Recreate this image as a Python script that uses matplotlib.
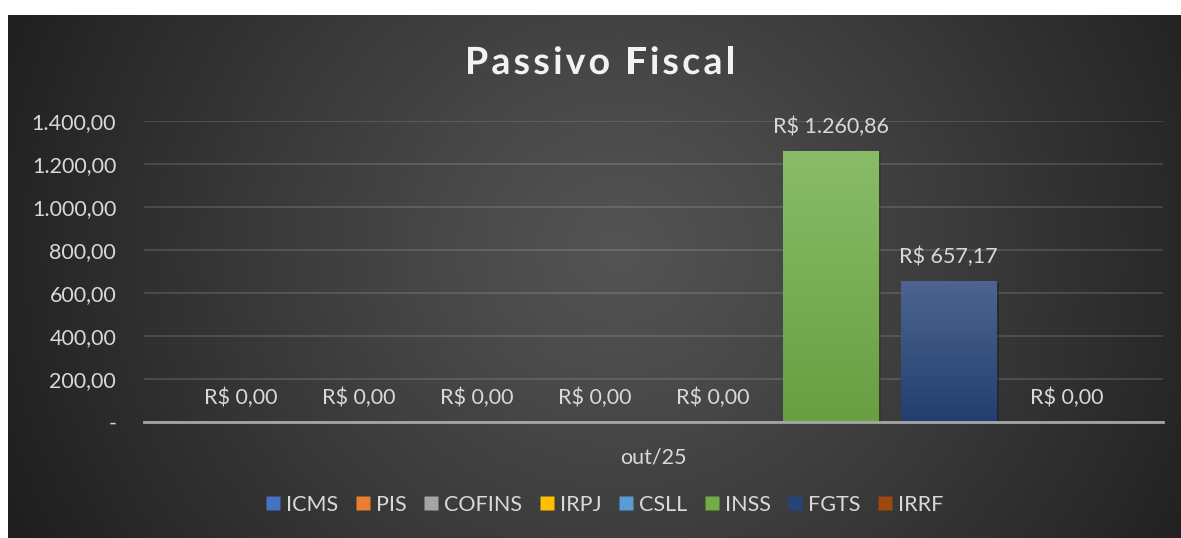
import numpy as np
import matplotlib
matplotlib.use("Agg")
import matplotlib.pyplot as plt
import matplotlib.patheffects as pe
from matplotlib.colors import to_rgb
from matplotlib.lines import Line2D

plt.rcParams['font.family'] = ['Lato', 'DejaVu Sans']

# data
categories = ["out/25"]
series = ["ICMS", "PIS", "COFINS", "IRPJ", "CSLL", "INSS", "FGTS", "IRRF"]
values = [0.0, 0.0, 0.0, 0.0, 0.0, 1260.86, 657.17, 0.0]
colors = ["#4472C4", "#ED7D31", "#A5A5A5", "#FFC000",
          "#5B9BD5", "#70AD47", "#264478", "#9E480E"]
yticks = [0, 200, 400, 600, 800, 1000, 1200, 1400]
title = "Passivo Fiscal"


def br_num(v):
    s = "{:,.2f}".format(v)
    return s.replace(",", "X").replace(".", ",").replace("X", ".")


W, H = 1181, 538
fig = plt.figure(figsize=(W / 100, H / 100), dpi=100)
fig.patch.set_facecolor("white")

# radial gradient background panel
bg = fig.add_axes([8 / W, 0, (W - 8) / W, (H - 15) / H])
bg.set_axis_off()
yy, xx = np.mgrid[0:1:300j, 0:1:600j]
r = np.sqrt(((xx - 0.52) * 2.1) ** 2 + ((yy - 0.45) * 1.0) ** 2)
r = np.clip(r / r.max(), 0, 1)
c0, c1 = 0x54 / 255, 0x1e / 255
img = c0 + (c1 - c0) * r ** 1.1
bg.imshow(np.dstack([img, img, img]), aspect="auto", extent=[0, 1, 0, 1])
bg.set_xlim(0, 1)
bg.set_ylim(0, 1)

ax = fig.add_axes([144 / W, (H - 422) / H, 1019 / W, 301 / H])
ax.set_facecolor("none")

n = len(series)
step = 118 / 1019
width = 96 / 1019
xs = (np.arange(n) - (n - 1) / 2) * step


def shade(c, f):
    c = np.array(to_rgb(c))
    if f >= 0:
        return c + (1 - c) * f
    return c * (1 + f)


for x, v, c, name in zip(xs, values, colors, series):
    bars = ax.bar(x, v, width=width, color=c, zorder=3, label=name)
    if v > 0:
        p = bars[0]
        top = shade(c, 0.18)
        bot = shade(c, -0.08)
        t = np.linspace(0, 1, 100)[:, None]
        grad = top[None, :] * (1 - t) + bot[None, :] * t
        im = ax.imshow(grad[:, None, :], extent=[x - width / 2, x + width / 2, 0, v],
                       aspect="auto", zorder=4)
        im.set_clip_path(p)
        p.set_path_effects([pe.SimplePatchShadow(offset=(2, -2), alpha=0.35), pe.Normal()])
    ax.annotate("R$ " + br_num(v), (x, v), xytext=(0, 10), textcoords="offset points",
                ha="center", va="bottom", color="#D9D9D9", fontsize=15.5, zorder=5,
                annotation_clip=False)

ax.set_xlim(-0.5, 0.5)
ax.set_ylim(0, 1400)
ax.set_yticks(yticks)
ax.set_yticklabels(["-"] + [br_num(v) for v in yticks[1:]])
ax.set_xticks([0])
ax.set_xticklabels(categories)
ax.tick_params(axis="y", length=0, pad=20, labelsize=15.5, labelcolor="#D9D9D9")
ax.tick_params(axis="x", length=0, pad=18, labelsize=15.5, labelcolor="#D9D9D9")
ax.grid(axis="y", color="#FFFFFF", alpha=0.13, linewidth=1.5, zorder=0)
for s in ["top", "right", "left"]:
    ax.spines[s].set_visible(False)
ax.spines["bottom"].set_color("#A6A6A6")
ax.spines["bottom"].set_linewidth(2)
ax.spines["bottom"].set_zorder(6)

# title with letter spacing, drawn char by char
renderer = fig.canvas.get_renderer()
tw = []
chars = []
for ch in title:
    t = fig.text(0, 0, ch, fontsize=27, fontweight="bold", color="#F2F2F2",
                 ha="left", va="center")
    w = t.get_window_extent(renderer).width if ch != " " else 0
    chars.append(t)
    tw.append(w)
space_w = fig.text(0, 0, "a a", fontsize=27, fontweight="bold").get_window_extent(renderer).width - \
    fig.text(0, 0, "aa", fontsize=27, fontweight="bold").get_window_extent(renderer).width
fig.texts = fig.texts[:-2]
tw = [w if ch != " " else space_w for ch, w in zip(title, tw)]
target = 270
extra = (target - sum(tw)) / (len(title) - 1)
xpos = 600 - target / 2
for t, w in zip(chars, tw):
    t.set_position((xpos / W, 1 - 63 / H))
    t.set_path_effects([pe.withSimplePatchShadow(offset=(1.5, -1.5), alpha=0.3)])
    xpos += w + extra

handles = [Line2D([], [], marker="s", linestyle="none", markersize=10,
                  markerfacecolor=c, markeredgecolor="none") for c in colors]
fig.legend(handles, series, loc="center", bbox_to_anchor=(604 / W, 1 - 505 / H),
           ncol=n, frameon=False, fontsize=15.5, labelcolor="#D9D9D9",
           handletextpad=0.2, columnspacing=0.75, handlelength=0.8)

fig.savefig("out.png", dpi=100, facecolor=fig.get_facecolor())
